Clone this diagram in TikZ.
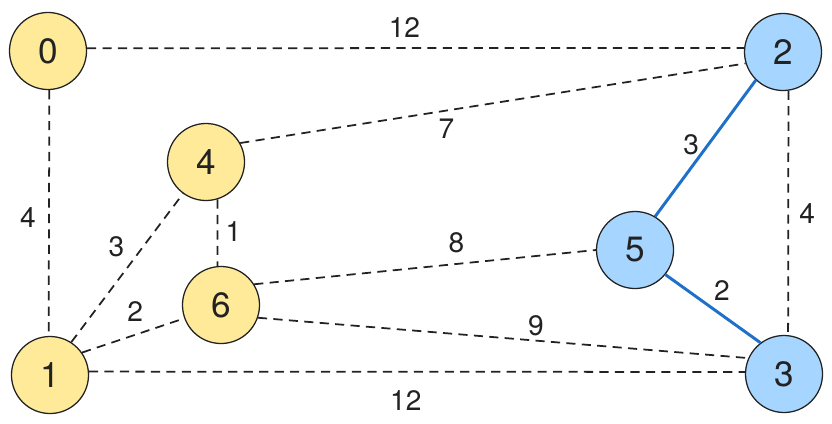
\documentclass[tikz,border=0pt]{standalone}
\usepackage{fontspec}
\setmainfont{TeX Gyre Heros}
\usepackage{tikz}

\definecolor{nodeyellow}{RGB}{255,234,153}
\definecolor{nodeblue}{RGB}{166,214,255}
\definecolor{pathblue}{RGB}{30,112,200}
\definecolor{inkgray}{RGB}{34,34,34}

\begin{document}
\begin{tikzpicture}[x=0.025cm,y=0.025cm,
  main node/.style={circle,fill=nodeyellow,draw=inkgray,line width=0.9pt,minimum size=1.925cm,inner sep=0pt,
    text=inkgray,font=\fontsize{25}{25}\selectfont},
  tree node/.style={main node,fill=nodeblue},
  weight line/.style={draw=inkgray,line width=1.25pt,dash pattern=on 6.5pt off 4.5pt},
  tree line/.style={draw=pathblue,line width=2.1pt}]

  \useasboundingbox (0,0) rectangle (832,423);

  \node[main node] (n0) at (48,372) {0};
  \node[main node] (n1) at (50,48)  {1};
  \node[tree node] (n2) at (783,371) {2};
  \node[tree node] (n3) at (784,49)  {3};
  \node[main node] (n4) at (206,261) {4};
  \node[tree node] (n5) at (635,173) {5};
  \node[main node] (n6) at (221,118) {6};

 \path[every node/.style={text=inkgray,font=\fontsize{20}{20}\selectfont}]
    (n0.4)   edge[weight line] node[pos=0.483,shift={(0,21)}]  {12} (n2.174)
    (n0.-88) edge[weight line] node[pos=0.52,shift={(-21,0)}]  {4}  (n1.92)
    (n4.29)  edge[weight line] node[pos=0.408,shift={(0,-18)}] {7}  (n2.197)
    (n2.226) edge[tree line]   node[pos=0.474,shift={(-17,0)}] {3}  (n5.59)
    (n2.-82) edge[weight line] node[pos=0.504,shift={(19,0)}]  {4}  (n3.84)
    (n1.57)  edge[weight line] node[pos=0.646,shift={(-27,0)}] {3}  (n4.234)
    (n4.-73) edge[weight line] node[pos=0.478,shift={(16,0)}]  {1}  (n6.95)
    (n6.32)  edge[weight line] node[pos=0.592,shift={(0,21)}]  {8}  (n5.180)
    (n5.-39) edge[tree line]   node[pos=0.596,shift={(0,25)}]  {2}  (n3.127)
    (n1.35)  edge[weight line] node[pos=0.521,shift={(0,23)}]  {2}  (n6.200)
    (n6.-19) edge[weight line] node[pos=0.567,shift={(0,15)}]  {9}  (n3.156)
    (n1.5)   edge[weight line] node[pos=0.483,shift={(0,-29)}] {12} (n3.177);
\end{tikzpicture}
\end{document}
